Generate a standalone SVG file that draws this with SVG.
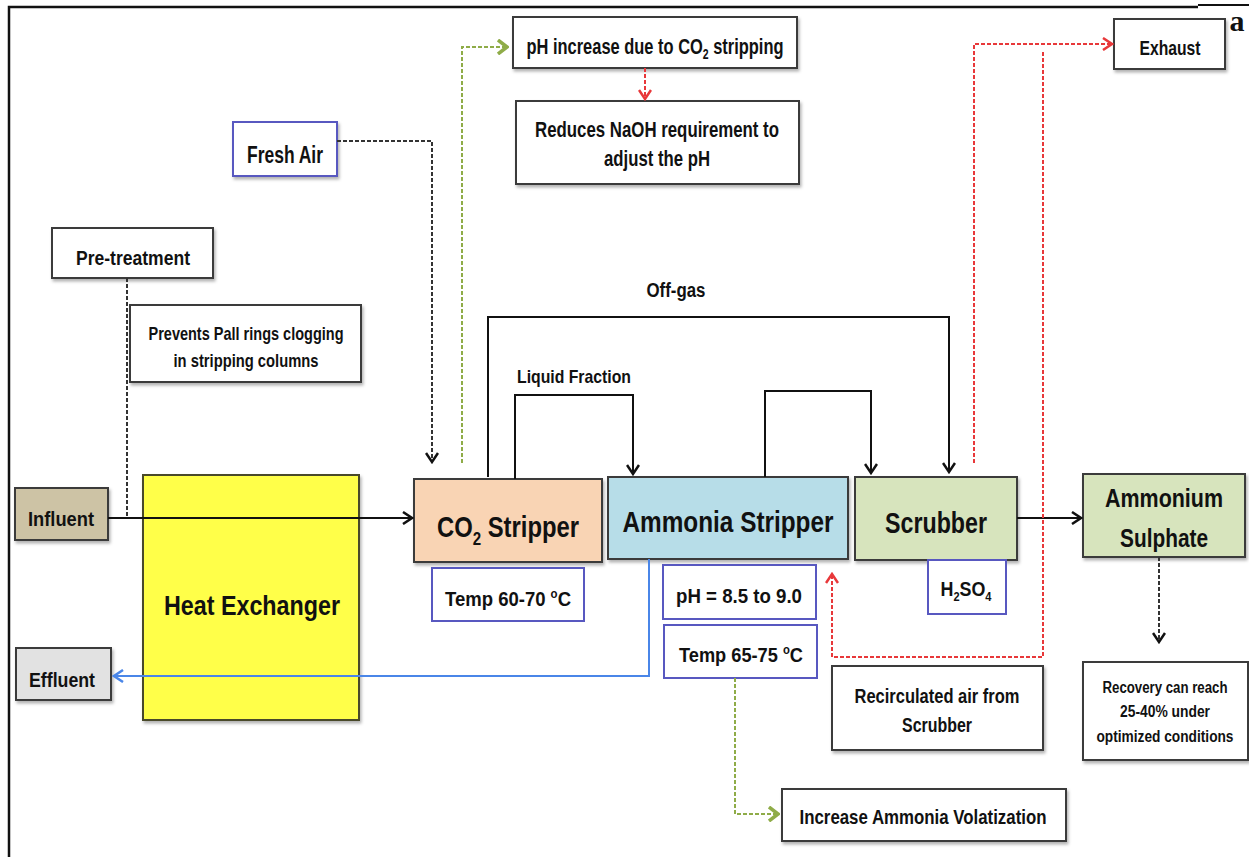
<svg xmlns="http://www.w3.org/2000/svg" width="1249" height="857" viewBox="0 0 1249 857">
<style>
  text { font-family: "Liberation Sans", Arial, sans-serif; font-weight: bold; fill: #111; text-anchor: middle; }
  .box { fill: #fff; stroke: #3a3a3a; stroke-width: 2; }
  .bbox { fill: #fff; stroke: #5858c0; stroke-width: 2; }
  .main { stroke: #3a3a3a; stroke-width: 2; }
  .ln { fill: none; stroke: #111; stroke-width: 2; }
  .dk { fill: none; stroke: #333; stroke-width: 2; stroke-dasharray: 4 2; }
  .rd { fill: none; stroke: #e8383a; stroke-width: 2; stroke-dasharray: 4 2; }
  .gr { fill: none; stroke: #8fac48; stroke-width: 2; stroke-dasharray: 4 2; }
  .bl { fill: none; stroke: #4a86e8; stroke-width: 2; }
</style>
<defs>
  <filter id="sh" x="-10%" y="-10%" width="130%" height="140%">
    <feDropShadow dx="1.5" dy="2.5" stdDeviation="1.5" flood-color="#000" flood-opacity="0.3"/>
  </filter>
  <marker id="aK" viewBox="0 0 12 14" markerWidth="12" markerHeight="14" refX="10" refY="7" orient="auto" markerUnits="userSpaceOnUse">
    <path d="M1,1 L10,7 L1,13" fill="none" stroke="#111" stroke-width="2.5"/>
  </marker>
  <marker id="aR" viewBox="0 0 12 14" markerWidth="12" markerHeight="14" refX="10" refY="7" orient="auto" markerUnits="userSpaceOnUse">
    <path d="M1,1 L10,7 L1,13" fill="none" stroke="#e8383a" stroke-width="2.5"/>
  </marker>
  <marker id="aG" viewBox="0 0 12 16" markerWidth="12" markerHeight="16" refX="10" refY="8" orient="auto" markerUnits="userSpaceOnUse">
    <path d="M1,1 L10,8 L1,15" fill="none" stroke="#8fac48" stroke-width="3.5"/>
  </marker>
  <marker id="aB" viewBox="0 0 12 14" markerWidth="12" markerHeight="14" refX="10" refY="7" orient="auto" markerUnits="userSpaceOnUse">
    <path d="M1,1 L10,7 L1,13" fill="none" stroke="#4a86e8" stroke-width="2.5"/>
  </marker>
</defs>

<rect width="1249" height="857" fill="#fff"/>
<g id="frame" fill="none" stroke="#111">
  <path d="M9,857 V7 H1198" stroke-width="2.5"/>
  <path d="M1198,5 H1249" stroke-width="2"/>
</g>
<text x="1237" y="31" style="font-family:'Liberation Serif',serif;font-size:30px">a</text>

<g id="offgas-label"><text x="676" y="297" font-size="20" textLength="59" lengthAdjust="spacingAndGlyphs">Off-gas</text></g>
<g id="liquid-label"><text x="574" y="383" font-size="19" textLength="114" lengthAdjust="spacingAndGlyphs">Liquid Fraction</text></g>

<g id="fresh-air">
  <rect class="bbox" x="233" y="122" width="104" height="54" filter="url(#sh)"/>
  <text x="285" y="163" font-size="23" textLength="76" lengthAdjust="spacingAndGlyphs">Fresh Air</text>
</g>
<g id="pretreatment">
  <rect class="box" x="52" y="228" width="161" height="50" filter="url(#sh)"/>
  <text x="133" y="265" font-size="21" textLength="114" lengthAdjust="spacingAndGlyphs">Pre-treatment</text>
</g>
<g id="prevents">
  <rect class="box" x="130" y="305" width="231" height="77" filter="url(#sh)"/>
  <text x="246" y="340" font-size="19" textLength="195" lengthAdjust="spacingAndGlyphs">Prevents Pall rings clogging</text>
  <text x="246" y="367" font-size="19" textLength="145" lengthAdjust="spacingAndGlyphs">in stripping columns</text>
</g>
<g id="ph-increase">
  <rect class="box" x="513" y="17" width="284" height="51" filter="url(#sh)"/>
  <text x="655" y="54" font-size="22" textLength="257" lengthAdjust="spacingAndGlyphs">pH increase due to CO<tspan font-size="14" dy="5">2</tspan><tspan dy="-5"> stripping</tspan></text>
</g>
<g id="reduces-naoh">
  <rect class="box" x="516" y="101" width="283" height="83" filter="url(#sh)"/>
  <text x="657" y="137" font-size="22" textLength="244" lengthAdjust="spacingAndGlyphs">Reduces NaOH requirement to</text>
  <text x="657" y="166" font-size="22" textLength="106" lengthAdjust="spacingAndGlyphs">adjust the pH</text>
</g>
<g id="exhaust">
  <rect class="box" x="1114" y="19" width="111" height="50" filter="url(#sh)"/>
  <text x="1170" y="55" font-size="21" textLength="61" lengthAdjust="spacingAndGlyphs">Exhaust</text>
</g>
<g id="influent">
  <rect class="main" x="15" y="488" width="93" height="52" fill="#cdc3a5" filter="url(#sh)"/>
  <text x="61" y="526" font-size="21" textLength="66" lengthAdjust="spacingAndGlyphs">Influent</text>
</g>
<g id="effluent">
  <rect class="main" x="16" y="648" width="95" height="52" fill="#e2e2e2" filter="url(#sh)"/>
  <text x="62" y="687" font-size="21" textLength="66" lengthAdjust="spacingAndGlyphs">Effluent</text>
</g>
<g id="heat-exchanger">
  <rect x="143" y="475" width="216" height="245" fill="#ffff4a" stroke="#4a4a2a" stroke-width="2" filter="url(#sh)"/>
  <text x="252" y="615" font-size="28" textLength="176" lengthAdjust="spacingAndGlyphs">Heat Exchanger</text>
</g>
<g id="co2-stripper">
  <rect class="main" x="414" y="479" width="188" height="83" fill="#f9d4b4" filter="url(#sh)"/>
  <text x="508" y="537" font-size="30" textLength="142" lengthAdjust="spacingAndGlyphs">CO<tspan font-size="19" dy="8">2</tspan><tspan dy="-8"> Stripper</tspan></text>
</g>
<g id="temp-60-70">
  <rect class="bbox" x="432" y="568" width="152" height="53"/>
  <text x="508" y="606" font-size="21" textLength="126" lengthAdjust="spacingAndGlyphs">Temp 60-70 <tspan font-size="13" dy="-8">o</tspan><tspan dy="8">C</tspan></text>
</g>
<g id="ammonia-stripper">
  <rect class="main" x="608" y="477" width="240" height="82" fill="#b7dde8" filter="url(#sh)"/>
  <text x="728" y="532" font-size="30" textLength="211" lengthAdjust="spacingAndGlyphs">Ammonia Stripper</text>
</g>
<g id="ph-range">
  <rect class="bbox" x="663" y="565" width="153" height="54"/>
  <text x="739" y="603" font-size="21" textLength="126" lengthAdjust="spacingAndGlyphs">pH = 8.5 to 9.0</text>
</g>
<g id="temp-65-75">
  <rect class="bbox" x="664" y="625" width="153" height="53"/>
  <text x="741" y="662" font-size="21" textLength="124" lengthAdjust="spacingAndGlyphs">Temp 65-75 <tspan font-size="13" dy="-8">o</tspan><tspan dy="8">C</tspan></text>
</g>
<g id="scrubber">
  <rect class="main" x="855" y="477" width="162" height="83" fill="#d7e4bd" filter="url(#sh)"/>
  <text x="936" y="533" font-size="30" textLength="102" lengthAdjust="spacingAndGlyphs">Scrubber</text>
</g>
<g id="h2so4">
  <rect class="bbox" x="928" y="560" width="78" height="54"/>
  <text x="966" y="596" font-size="21" textLength="51" lengthAdjust="spacingAndGlyphs">H<tspan font-size="13" dy="5">2</tspan><tspan dy="-5">SO</tspan><tspan font-size="13" dy="5">4</tspan></text>
</g>
<g id="ammonium-sulphate">
  <rect class="main" x="1083" y="474" width="162" height="83" fill="#d7e4bd" filter="url(#sh)"/>
  <text x="1164" y="507" font-size="26" textLength="118" lengthAdjust="spacingAndGlyphs">Ammonium</text>
  <text x="1164" y="547" font-size="26" textLength="88" lengthAdjust="spacingAndGlyphs">Sulphate</text>
</g>
<g id="recirculated-air">
  <rect class="box" x="832" y="666" width="211" height="84" filter="url(#sh)"/>
  <text x="937" y="703" font-size="20" textLength="165" lengthAdjust="spacingAndGlyphs">Recirculated air from</text>
  <text x="937" y="732" font-size="20" textLength="70" lengthAdjust="spacingAndGlyphs">Scrubber</text>
</g>
<g id="recovery">
  <rect class="box" x="1083" y="662" width="165" height="98" filter="url(#sh)"/>
  <text x="1165" y="693" font-size="16" textLength="125" lengthAdjust="spacingAndGlyphs">Recovery can reach</text>
  <text x="1165" y="717" font-size="16" textLength="90" lengthAdjust="spacingAndGlyphs">25-40% under</text>
  <text x="1165" y="742" font-size="16" textLength="137" lengthAdjust="spacingAndGlyphs">optimized conditions</text>
</g>
<g id="increase-volatization">
  <rect class="box" x="782" y="789" width="284" height="52" filter="url(#sh)"/>
  <text x="923" y="824" font-size="21" textLength="247" lengthAdjust="spacingAndGlyphs">Increase Ammonia Volatization</text>
</g>

<g id="connectors">
  <path class="ln" d="M108,518 H412" marker-end="url(#aK)"/>
  <path class="dk" d="M127,278 V518"/>
  <path class="dk" d="M337,141 H432 V462" marker-end="url(#aK)"/>
  <path class="gr" d="M462,463 V47 H507" marker-end="url(#aG)"/>
  <path class="rd" d="M645,68 V99" marker-end="url(#aR)"/>
  <path class="ln" d="M488,477 V317 H949 V472" marker-end="url(#aK)"/>
  <path class="ln" d="M515,479 V395 H633 V474" marker-end="url(#aK)"/>
  <path class="ln" d="M765,477 V391 H871 V473" marker-end="url(#aK)"/>
  <path class="ln" d="M1017,518 H1081" marker-end="url(#aK)"/>
  <path class="rd" d="M974,463 V44 H1112" marker-end="url(#aR)"/>
  <path class="rd" d="M1043,52 V657 H832 V574" marker-end="url(#aR)"/>
  <path class="bl" d="M649,559 V676 H114" marker-end="url(#aB)"/>
  <path class="gr" d="M735,678 V814 H778" marker-end="url(#aG)"/>
  <path class="dk" d="M1159,557 V642" marker-end="url(#aK)"/>
</g>
</svg>
